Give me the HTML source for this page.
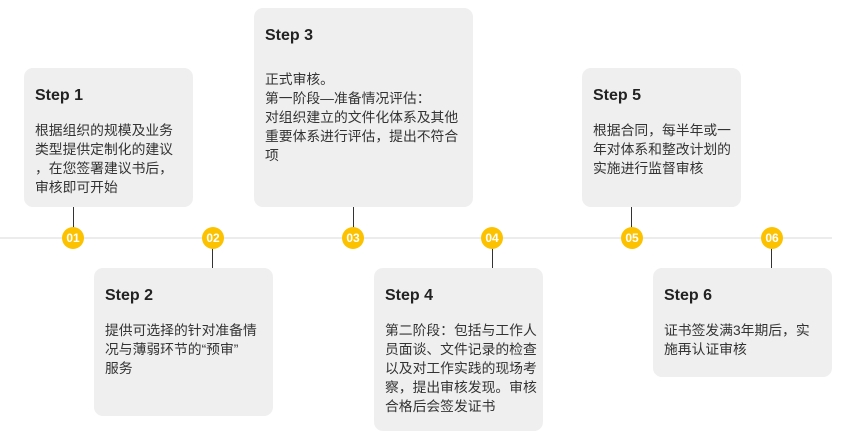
<!DOCTYPE html>
<html><head><meta charset="utf-8"><style>
body{margin:0;width:866px;height:437px;background:#fff;position:relative;overflow:hidden;font-family:"Liberation Sans","Noto Sans CJK SC",sans-serif;color:#222}
.line{position:absolute;left:0;top:237px;width:832px;height:2px;background:#ececec}
.box{position:absolute;background:#efefef;border-radius:9px;box-sizing:border-box}
.t{position:absolute;left:11px;font-weight:bold;font-size:16px;color:#222}
.d{position:absolute;left:11px;font-size:13.8px;line-height:19px;color:#333;white-space:nowrap}
.c{position:absolute;width:22px;height:22px;border-radius:50%;background:#fcc200;color:#fff;font-weight:bold;font-size:12px;line-height:22px;text-align:center;top:227px}
.v{position:absolute;width:1px;background:#333}
</style></head><body>
<div class="line"></div>

<div class="box" style="left:24px;top:68px;width:169px;height:139px"><div class="t" style="top:19px">Step 1</div><div class="d" style="top:53px">根据组织的规模及业务<br>类型提供定制化的建议<br>，在您签署建议书后，<br>审核即可开始</div></div>
<div class="box" style="left:94px;top:268px;width:179px;height:148px"><div class="t" style="top:19px">Step 2</div><div class="d" style="top:53px">提供可选择的针对准备情<br>况与薄弱环节的“预审”<br>服务</div></div>
<div class="box" style="left:254px;top:8px;width:219px;height:199px"><div class="t" style="top:19px">Step 3</div><div class="d" style="top:62px">正式审核。<br>第一阶段—准备情况评估：<br>对组织建立的文件化体系及其他<br>重要体系进行评估，提出不符合<br>项</div></div>
<div class="box" style="left:374px;top:268px;width:169px;height:163px"><div class="t" style="top:19px">Step 4</div><div class="d" style="top:53px">第二阶段：包括与工作人<br>员面谈、文件记录的检查<br>以及对工作实践的现场考<br>察，提出审核发现。审核<br>合格后会签发证书</div></div>
<div class="box" style="left:582px;top:68px;width:159px;height:139px"><div class="t" style="top:19px">Step 5</div><div class="d" style="top:53px">根据合同，每半年或一<br>年对体系和整改计划的<br>实施进行监督审核</div></div>
<div class="box" style="left:653px;top:268px;width:179px;height:109px"><div class="t" style="top:19px">Step 6</div><div class="d" style="top:53px">证书签发满3年期后，实<br>施再认证审核</div></div>

<div class="v" style="left:73px;top:207px;height:21px"></div>
<div class="v" style="left:212px;top:248px;height:20px"></div>
<div class="v" style="left:353px;top:207px;height:21px"></div>
<div class="v" style="left:492px;top:248px;height:20px"></div>
<div class="v" style="left:631px;top:207px;height:21px"></div>
<div class="v" style="left:771px;top:248px;height:20px"></div>

<div class="c" style="left:62px">01</div>
<div class="c" style="left:202px">02</div>
<div class="c" style="left:342px">03</div>
<div class="c" style="left:481px">04</div>
<div class="c" style="left:621px">05</div>
<div class="c" style="left:761px">06</div>
</body></html>
